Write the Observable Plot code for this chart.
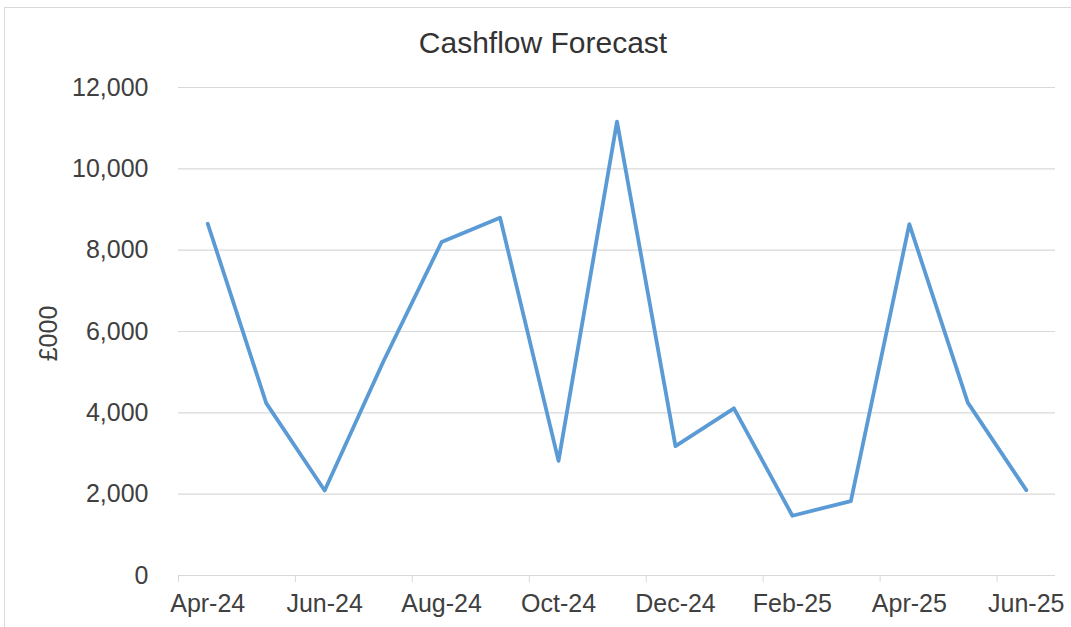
<!DOCTYPE html>
<html>
<head>
<meta charset="utf-8">
<script src="https://cdn.jsdelivr.net/npm/d3@7"></script>
<script src="https://cdn.jsdelivr.net/npm/@observablehq/plot@0.6"></script>
<style>
  html, body { margin: 0; padding: 0; background: #fff; overflow: hidden; }
  body { width: 1071px; height: 627px; position: relative; font-family: "Liberation Sans", Arial, sans-serif; }
  #frame { position: absolute; left: 4px; top: 7px; width: 1100px; height: 700px; border: 1px solid #d9d9d9; box-sizing: border-box; }
  #title { position: absolute; left: 0; top: 0; width: 1086px; height: 70px; text-align: center;
           font-size: 30px; line-height: 30px; padding-top: 28px; box-sizing: border-box; color: #333; }
  #chart { position: absolute; left: 0; top: 70px; }
</style>
</head>
<body>
<div id="frame"></div>
<div id="title">Cashflow Forecast</div>
<div id="chart"></div>
<script>
const months = ["Apr-24","May-24","Jun-24","Jul-24","Aug-24","Sep-24","Oct-24","Nov-24","Dec-24","Jan-25","Feb-25","Mar-25","Apr-25","May-25","Jun-25"];
const values = [8650, 4240, 2090, 5250, 8200, 8800, 2820, 11160, 3180, 4110, 1470, 1830, 8640, 4250, 2100];
const yTicks = [0, 2000, 4000, 6000, 8000, 10000, 12000];
const yLabel = "£000";

const idx = months.map((m, i) => i);
const labelIdx = idx.filter(i => i % 2 === 0);
const boundaries = labelIdx.map(i => i - 0.5);

const chart = Plot.plot({
  width: 1071,
  height: 557,
  marginTop: 17,
  marginBottom: 52,
  marginLeft: 178,
  marginRight: 16,
  style: { fontFamily: '"Liberation Sans", Arial, sans-serif', fontSize: "25px", color: "#404040", background: "transparent", overflow: "visible" },
  x: { type: "linear", domain: [-0.5, months.length - 0.5], axis: null },
  y: { domain: [0, 12000], axis: null },
  marks: [
    Plot.gridY(yTicks.filter(v => v > 0), { stroke: "#d9d9d9", strokeOpacity: 1, strokeWidth: 1.2 }),
    Plot.ruleY([0], { stroke: "#d9d9d9", strokeWidth: 1.2 }),
    Plot.axisY(yTicks, { tickSize: 0, tickPadding: 30, tickFormat: d3.format(","), label: null }),
    Plot.axisX(boundaries, { tickSize: 7, tickFormat: () => "", stroke: "#d9d9d9", strokeOpacity: 1, label: null }),
    Plot.axisX(labelIdx, { tickSize: 0, tickPadding: 19, tickFormat: i => months[i], label: null }),
    Plot.lineY(values, { x: (d, i) => i, y: d => d, stroke: "#5B9BD5", strokeWidth: 3.8 }),
    Plot.text([yLabel], { frameAnchor: "left", textAnchor: "middle", rotate: -90, dx: -130, dy: 2, fontSize: 25, fill: "#404040" })
  ]
});
document.getElementById("chart").appendChild(chart);
</script>
</body>
</html>
